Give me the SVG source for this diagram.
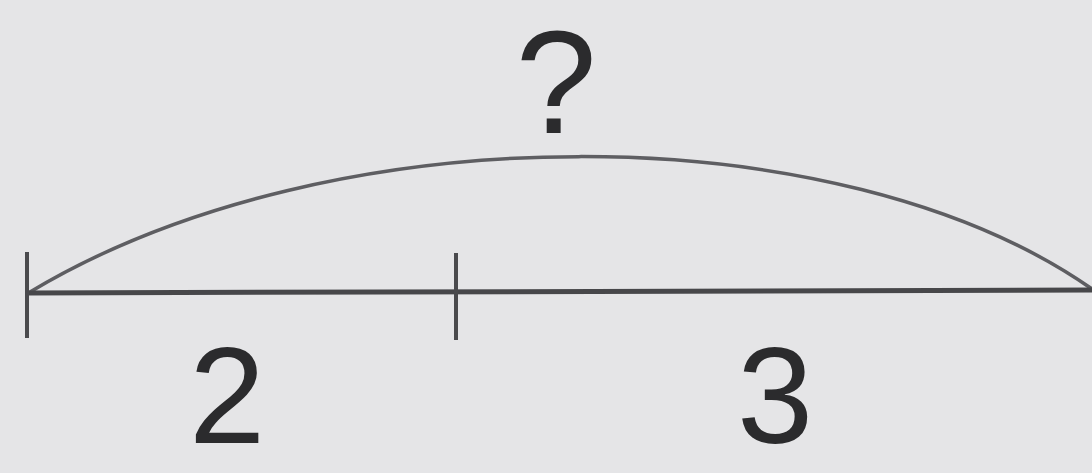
<svg xmlns="http://www.w3.org/2000/svg" width="1092" height="473" viewBox="0 0 1092 473">
  <style>
    .lbl { font-family: "Liberation Sans", Arial, sans-serif; font-size: 146px; fill: #2b2b2d; text-anchor: middle; }
    .num { font-size: 137px; }
    .seg { stroke: #47474a; stroke-width: 5; stroke-linecap: butt; fill: none; }
    .tick { stroke: #4a4a4d; stroke-width: 4; fill: none; }
    .arc { stroke: #5e5e62; stroke-width: 3.5; fill: none; }
  </style>
  <rect x="0" y="0" width="1092" height="473" fill="#e5e5e7"/>
  <g id="connectors">
    <path class="arc" d="M30,292 C330,112 839,112 1092,289"/>
    <line class="seg" x1="27" y1="293" x2="1092" y2="290"/>
  </g>
  <g id="tick-left">
    <line class="tick" x1="27" y1="252" x2="27" y2="338"/>
  </g>
  <g id="tick-mid">
    <line class="tick" x1="456" y1="253" x2="456" y2="340"/>
  </g>
  <g id="label-total">
    <text class="lbl" x="556" y="133">?</text>
  </g>
  <g id="label-2">
    <text class="lbl num" x="227" y="443">2</text>
  </g>
  <g id="label-3">
    <text class="lbl num" x="775" y="443">3</text>
  </g>
</svg>
